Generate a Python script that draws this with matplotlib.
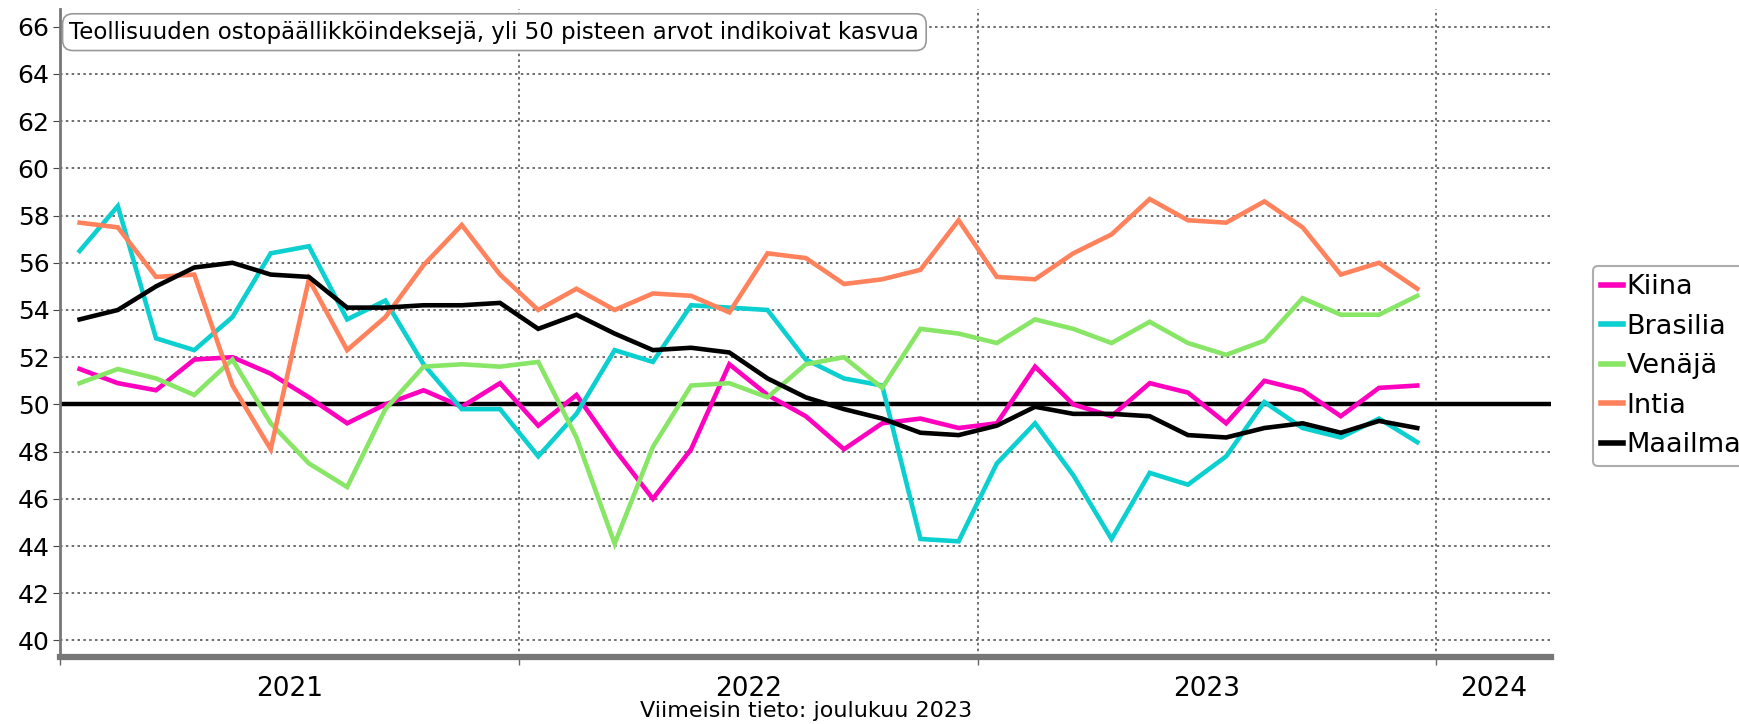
import numpy as np
import matplotlib
matplotlib.use('Agg')
import matplotlib.pyplot as plt

### Data: monthly PMI, Jan 2021 - Dec 2023
kiina = [51.5, 50.9, 50.6, 51.9, 52.0, 51.3, 50.3, 49.2, 50.0, 50.6, 49.9, 50.9,
         49.1, 50.4, 48.1, 46.0, 48.1, 51.7, 50.4, 49.5, 48.1, 49.2, 49.4, 49.0,
         49.2, 51.6, 50.0, 49.5, 50.9, 50.5, 49.2, 51.0, 50.6, 49.5, 50.7, 50.8]
brasilia = [56.5, 58.4, 52.8, 52.3, 53.7, 56.4, 56.7, 53.6, 54.4, 51.7, 49.8, 49.8,
            47.8, 49.6, 52.3, 51.8, 54.2, 54.1, 54.0, 51.9, 51.1, 50.8, 44.3, 44.2,
            47.5, 49.2, 47.0, 44.3, 47.1, 46.6, 47.8, 50.1, 49.0, 48.6, 49.4, 48.4]
venaja = [50.9, 51.5, 51.1, 50.4, 51.9, 49.2, 47.5, 46.5, 49.8, 51.6, 51.7, 51.6,
          51.8, 48.6, 44.1, 48.2, 50.8, 50.9, 50.3, 51.7, 52.0, 50.7, 53.2, 53.0,
          52.6, 53.6, 53.2, 52.6, 53.5, 52.6, 52.1, 52.7, 54.5, 53.8, 53.8, 54.6]
intia = [57.7, 57.5, 55.4, 55.5, 50.8, 48.1, 55.3, 52.3, 53.7, 55.9, 57.6, 55.5,
         54.0, 54.9, 54.0, 54.7, 54.6, 53.9, 56.4, 56.2, 55.1, 55.3, 55.7, 57.8,
         55.4, 55.3, 56.4, 57.2, 58.7, 57.8, 57.7, 58.6, 57.5, 55.5, 56.0, 54.9]
maailma = [53.6, 54.0, 55.0, 55.8, 56.0, 55.5, 55.4, 54.1, 54.1, 54.2, 54.2, 54.3,
           53.2, 53.8, 53.0, 52.3, 52.4, 52.2, 51.1, 50.3, 49.8, 49.4, 48.8, 48.7,
           49.1, 49.9, 49.6, 49.6, 49.5, 48.7, 48.6, 49.0, 49.2, 48.8, 49.3, 49.0]

series = [('Kiina', kiina, '#ff00bf'),
          ('Brasilia', brasilia, '#0ccfcf'),
          ('Venäjä', venaja, '#88e666'),
          ('Intia', intia, '#ff825c'),
          ('Maailma', maailma, '#000000')]

years = ['2021', '2022', '2023', '2024']
title = 'Teollisuuden ostopäällikköindeksejä, yli 50 pisteen arvot indikoivat kasvua'
footer = 'Viimeisin tieto: joulukuu 2023'

# x in months since start of 2021, points at mid-month
x = np.arange(len(kiina)) + 0.5

fig = plt.figure(figsize=(17.4, 7.24), dpi=100)
ax = fig.add_axes([60.5 / 1740, 1 - 657 / 724, (1551 - 60.5) / 1740, (657 - 9) / 724])

ax.set_xlim(0, 39)
ax.set_ylim(39.3, 66.75)

# grid
for v in range(40, 67, 2):
    ax.axhline(v, color='#555555', lw=1.2, ls=(0, (1.5, 2)), zorder=1)
for b in (12, 24, 36):
    ax.axvline(b, color='#555555', lw=1.2, ls=(0, (1.5, 2)), zorder=1)
ax.axhline(50, color='black', lw=3.2, zorder=2)

for name, vals, col in series:
    ax.plot(x, vals, color=col, lw=3.3, label=name, zorder=3, solid_joinstyle='miter')

ax.set_yticks(range(40, 67, 2))
ax.tick_params(axis='y', labelsize=18, length=5, color='#444444', pad=3)
ax.set_xticks([0, 12, 24, 36])
ax.set_xticklabels([])
ax.tick_params(axis='x', length=6, color='#666666', width=1)

centers = [6, 18, 30, 37.5]
for c, yr in zip(centers, years):
    ax.text(c, -0.03, yr, transform=ax.get_xaxis_transform(), ha='center', va='top',
            fontsize=19)

for s in ('top', 'right'):
    ax.spines[s].set_visible(False)
ax.spines['left'].set_color('#777777')
ax.spines['left'].set_linewidth(2)
ax.spines['bottom'].set_color('#777777')
ax.spines['bottom'].set_linewidth(4.5)

ax.text(0.006, 0.982, title, transform=ax.transAxes, ha='left', va='top', fontsize=16.5,
        zorder=5, bbox=dict(boxstyle='round,pad=0.3,rounding_size=0.45', fc='white',
                            ec='#999999', lw=1.2))

fig.text(806 / 1740, 1 - 711 / 724, footer, ha='center', va='center', fontsize=16)

leg = fig.legend(loc='upper left', bbox_to_anchor=(1593 / 1740, 1 - 266 / 724),
                 fontsize=19.5, handlelength=0.8, handletextpad=0.15, labelspacing=0.5,
                 borderpad=0.3, borderaxespad=0, frameon=True, fancybox=True)
leg.get_frame().set_edgecolor('#999999')
leg.get_frame().set_linewidth(1.5)
for h in leg.get_lines():
    h.set_linewidth(4)

fig.savefig('out.png', dpi=100)
